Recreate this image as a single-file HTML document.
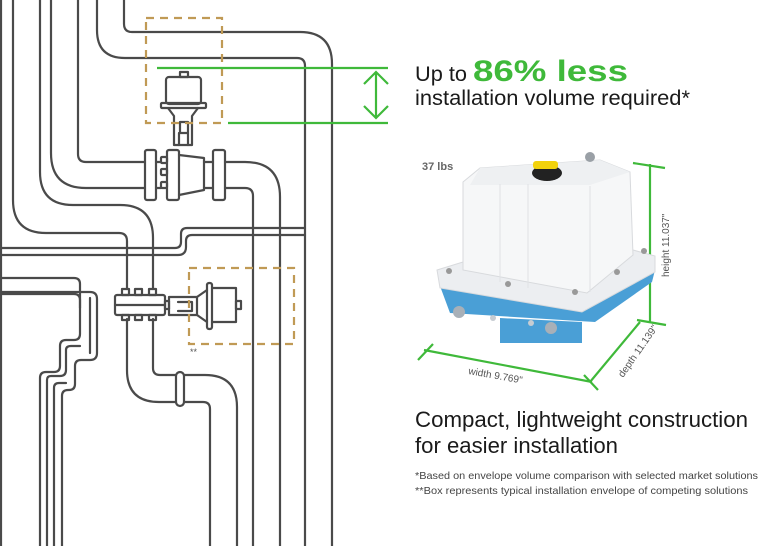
<!DOCTYPE html>
<html><head><meta charset="utf-8"><style>
html,body{margin:0;padding:0;background:#fff;width:784px;height:546px;overflow:hidden}
svg{display:block}
text{font-family:"Liberation Sans",sans-serif}
</style></head><body>
<svg width="784" height="546" viewBox="0 0 784 546" xmlns="http://www.w3.org/2000/svg">
<g fill="none" stroke="#4a4a4a" stroke-width="2.2" stroke-linecap="round" stroke-linejoin="round">
<path d="M1 0V546"/>
<path d="M124 0V24Q124 32 132 32H300Q332 32 332 64V546"/>
<path d="M97 0V30Q97 58 125 58H297Q305 58 305 66V546"/>
<path d="M78 0V154Q78 162 86 162H145"/>
<path d="M51 0V153Q51 188 86 188H145"/>
<path d="M225 162H245Q280 162 280 197V546"/>
<path d="M225 188H245Q253 188 253 196V546"/>
<path d="M13 0V200Q13 233 46 233H119Q127 233 127 241V289"/>
<path d="M40 0V172Q40 205 73 205H120Q153 205 153 238V289"/>
<path d="M1 248H175Q181 248 181 242V234Q181 228 187 228H305"/>
<path d="M1 255H178Q186 255 186 247V241Q186 235 192 235H305"/>
<path d="M1 278H74Q80 278 80 284V334Q80 340 74 340H66Q60 340 60 346V366Q60 372 54 372H46Q40 372 40 378V546"/>
<path d="M1 292H90Q97 292 97 299V353Q97 360 90 360H81Q75 360 75 366V384Q75 390 69 390H68Q62 390 62 396V546"/>
<path d="M1 294H74Q80 294 80 300V308"/>
<path d="M90 298V353"/>
<path d="M47 546V380Q47 376 51 376H60Q66 376 66 370V350Q66 346 71 346H80"/>
<path d="M54 546V388Q54 383 59 383H66"/>
<path d="M127 319V370Q127 402 159 402H176"/>
<path d="M153 319V368Q153 375 160 375H176"/>
<path d="M184 375H205Q237 375 237 407V546"/>
<path d="M184 402H203Q210 402 210 409V546"/>
<rect x="176" y="372" width="8" height="34" rx="4"/>
<rect x="180" y="72" width="8" height="5"/>
<rect x="166" y="77" width="35" height="27" rx="3"/>
<rect x="161" y="103" width="45" height="5" rx="1"/>
<path d="M168 108L174 116V145H192V116L198 108"/>
<path d="M180 122H188M180 122V133H188V122M179 133V145M188 133V145"/>
<rect x="145" y="150" width="11" height="50" rx="2"/>
<rect x="167" y="150" width="12" height="50" rx="2"/>
<rect x="161" y="157" width="6" height="6" rx="1"/><rect x="161" y="169" width="6" height="6" rx="1"/><rect x="161" y="182" width="6" height="6" rx="1"/>
<path d="M179 155L204 158V190L179 195"/>
<path d="M204 162H213M204 188H213"/>
<rect x="213" y="150" width="12" height="50" rx="2"/>
<path d="M156 162H161M156 188H161"/>
<rect x="115" y="295" width="50" height="20" rx="2"/>
<rect x="122" y="289" width="7" height="6"/><rect x="135" y="289" width="7" height="6"/><rect x="149" y="289" width="7" height="6"/>
<rect x="122" y="315" width="7" height="5"/><rect x="135" y="315" width="7" height="5"/><rect x="149" y="315" width="7" height="5"/>
<path d="M115 305H165"/>
<rect x="165" y="301" width="4" height="8"/>
<rect x="169" y="297" width="28" height="18"/>
<path d="M178 302H192V311H178"/>
<rect x="207" y="283" width="5" height="46" rx="2"/>
<path d="M197 297L207 290M197 315L207 322M212 288H236V322H212"/>
<rect x="236" y="301" width="5" height="8"/>
</g>
<g fill="none" stroke="#c09a55" stroke-width="2.2" stroke-dasharray="8 6">
<rect x="146" y="18" width="76" height="105"/>
<rect x="189" y="268" width="105" height="76"/>
</g>
<text x="190" y="355" font-size="9" fill="#555">**</text>
<g stroke="#3fb93a" stroke-width="2.2" fill="none">
<path d="M157 68H388M228 123H388M376 72V118M364 84L376 72L388 84M364 106L376 118L388 106"/>
<path d="M650 164V322M633 163L665 168M637 320L666 325"/>
<path d="M640 322L590 382M584 375L598 390"/>
<path d="M424 350L592 382M418 360L433 344"/>
</g>
<text x="415" y="81" font-size="21" fill="#1a1a1a" textLength="52" lengthAdjust="spacingAndGlyphs">Up to</text>
<text x="473" y="81" font-size="30" font-weight="bold" fill="#3fb93a" textLength="155" lengthAdjust="spacingAndGlyphs">86% less</text>
<text x="415" y="105" font-size="21" fill="#1a1a1a" textLength="275" lengthAdjust="spacingAndGlyphs">installation volume required*</text>
<text x="422" y="170" font-size="11" font-weight="bold" fill="#666">37 lbs</text>
<!-- product -->
<polygon points="500,318 582,322 582,343 500,343" fill="#4a9fd6"/>
<polygon points="440,286 582,310 655,270 652,282 595,322 450,313" fill="#4a9fd6"/>
<polygon points="437,270 463,262 633,250 655,256 655,272 582,312 440,288" fill="#eceef1" stroke="#d8dadd"/>
<polygon points="463,182 480,168 600,160 630,172 633,255 587,293 463,270" fill="#f6f7f8" stroke="#d8dadd"/>
<polygon points="480,168 600,160 630,172 590,185 470,185" fill="#eef0f2"/>
<path d="M500 184V282M528 184V288M590 186V292" stroke="#e0e2e5" fill="none"/>
<ellipse cx="547" cy="173" rx="15" ry="8" fill="#222"/>
<rect x="533" y="161" width="25" height="8" rx="3" fill="#f2d20c"/>
<circle cx="590" cy="157" r="5" fill="#9aa0a6"/>
<circle cx="449" cy="271" r="3" fill="#999"/><circle cx="508" cy="284" r="3" fill="#999"/><circle cx="575" cy="292" r="3" fill="#999"/><circle cx="617" cy="272" r="3" fill="#999"/><circle cx="644" cy="251" r="3" fill="#999"/>
<circle cx="459" cy="312" r="6" fill="#a8b0b8"/><circle cx="551" cy="328" r="6" fill="#a8b0b8"/>
<circle cx="493" cy="318" r="3" fill="#c6ccd2"/><circle cx="531" cy="323" r="3" fill="#c6ccd2"/>
<text x="0" y="0" font-size="10" fill="#555" transform="translate(468,374) rotate(10)">width 9.769"</text>
<text x="0" y="0" font-size="10" fill="#555" transform="translate(623,378) rotate(-55)">depth 11.139"</text>
<text x="0" y="0" font-size="10" fill="#555" transform="translate(669,277) rotate(-90)">height 11.037"</text>
<text x="415" y="427" font-size="22" fill="#1a1a1a" textLength="333" lengthAdjust="spacingAndGlyphs">Compact, lightweight construction</text>
<text x="415" y="453" font-size="22" fill="#1a1a1a" textLength="203" lengthAdjust="spacingAndGlyphs">for easier installation</text>
<text x="415" y="479" font-size="10.5" fill="#444" textLength="343" lengthAdjust="spacingAndGlyphs">*Based on envelope volume comparison with selected market solutions</text>
<text x="415" y="494" font-size="10.5" fill="#444" textLength="333" lengthAdjust="spacingAndGlyphs">**Box represents typical installation envelope of competing solutions</text>
</svg>
</body></html>
